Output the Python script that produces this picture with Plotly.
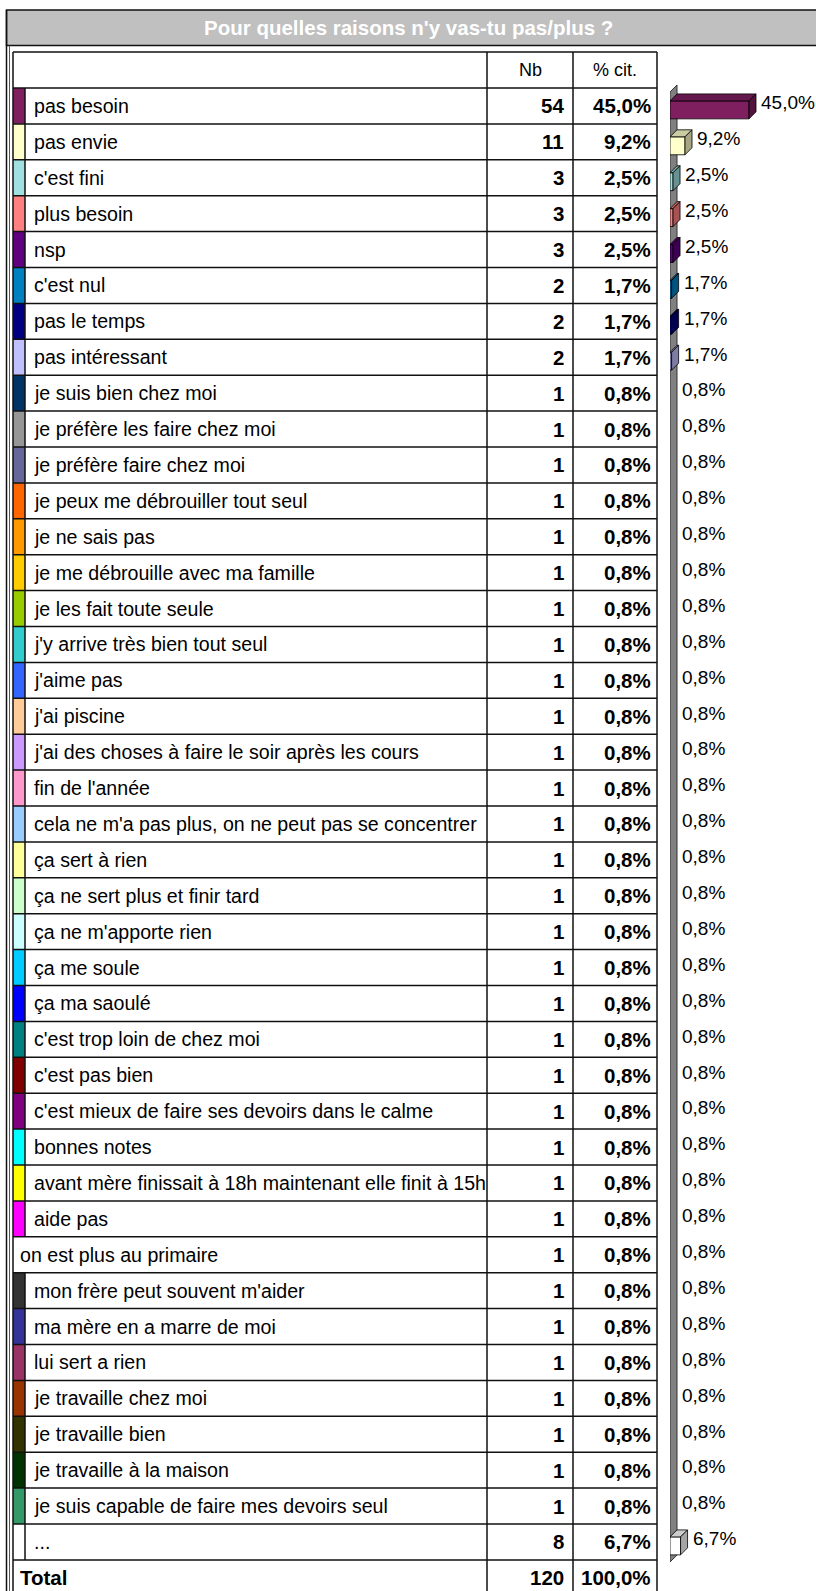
import plotly.graph_objects as go

# ---------------- data ----------------
title_text = "Pour quelles raisons n'y vas-tu pas/plus ?"
header_nb = "Nb"
header_pct = "% cit."

labels = [
    "pas besoin", "pas envie", "c'est fini", "plus besoin", "nsp", "c'est nul",
    "pas le temps", "pas intéressant", "je suis bien chez moi",
    "je préfère les faire chez moi", "je préfère faire chez moi",
    "je peux me débrouiller tout seul", "je ne sais pas",
    "je me débrouille avec ma famille", "je les fait toute seule",
    "j'y arrive très bien tout seul", "j'aime pas", "j'ai piscine",
    "j'ai des choses à faire le soir après les cours", "fin de l'année",
    "cela ne m'a pas plus, on ne peut pas se concentrer", "ça sert à rien",
    "ça ne sert plus et finir tard", "ça ne m'apporte rien", "ça me soule",
    "ça ma saoulé", "c'est trop loin de chez moi", "c'est pas bien",
    "c'est mieux de faire ses devoirs dans le calme", "bonnes notes",
    "avant mère finissait à 18h maintenant elle finit à 15h", "aide pas",
    "on est plus au primaire", "mon frère peut souvent m'aider",
    "ma mère en a marre de moi", "lui sert a rien", "je travaille chez moi",
    "je travaille bien", "je travaille à la maison",
    "je suis capable de faire mes devoirs seul", "...",
]
counts = [54, 11, 3, 3, 3, 2, 2, 2] + [1] * 32 + [8]
pcts = [45.0, 9.2, 2.5, 2.5, 2.5, 1.7, 1.7, 1.7] + [0.8] * 32 + [6.7]
colors = [
    "#7F1F5F", "#FFFFCC", "#A0E0E0", "#FF8080", "#600080", "#0080C0",
    "#000080", "#C0C0FF", "#003366", "#969696", "#666699", "#FF6600",
    "#FF9900", "#FFCC00", "#99CC00", "#33CCCC", "#3366FF", "#FFCC99",
    "#CC99FF", "#FF99CC", "#99CCFF", "#FFFF99", "#CCFFCC", "#CCFFFF",
    "#00CCFF", "#0000FF", "#008080", "#800000", "#800080", "#00FFFF",
    "#FFFF00", "#FF00FF", None, "#333333", "#333399", "#993366",
    "#993300", "#333300", "#003300", "#339966", "#FFFFFF",
]
total_label = "Total"
total_count = 120
total_pct = 100.0

# ---------------- layout constants ----------------
W, H = 816, 1591
FONT = "Liberation Sans, Arial, sans-serif"
ROW_H = 35.9
TOP = 88.0                      # pixel top of first data row
X0 = 0.8                        # value axis minimum (bars start here)
PX_PER_PCT = 79.0 / (45.0 - X0)
DX = 7.0 / PX_PER_PCT           # 3D depth in % units
DY = 7.0 / ROW_H                # 3D depth in row units
LINE = "#111111"
LBL_SIZE = 19.6
NUM_SIZE = 20.5
BAR_LBL_SIZE = 19

n = len(labels)
rows = list(range(n))
total_row = n


def py(px):
    return 1 - px / H


def fmt_pct(v):
    return f"{v:.1f}".replace(".", ",") + "%"


def shade(hexc, f):
    h = hexc.lstrip("#")
    r, g, b = (int(h[i:i + 2], 16) for i in (0, 2, 4))
    return "rgb(%d,%d,%d)" % (r * f, g * f, b * f)


fig = go.Figure()

# swatches (table axis x = pixels)
sw_rows = [r for r in rows if colors[r] is not None]
fig.add_trace(go.Bar(
    orientation="h", y=sw_rows, x=[12] * len(sw_rows), base=13, width=1,
    marker=dict(color=[colors[r] for r in sw_rows], line=dict(width=0)),
    xaxis="x", yaxis="y", hoverinfo="skip", showlegend=False,
))

# 3D bars: front faces (from the axis minimum)
fig.add_trace(go.Bar(
    orientation="h", y=[r + 0.11 for r in rows], x=[v - X0 for v in pcts], base=X0,
    width=0.5,
    marker=dict(color=[c or "#FFFFFF" for c in colors],
                line=dict(color="#000000", width=[0.8 if v > X0 else 0 for v in pcts])),
    xaxis="x2", yaxis="y", hoverinfo="skip", showlegend=False,
))

# 3D bars: top and side faces (only bars longer than the axis minimum are visible)
for r, v, c in zip(rows, pcts, colors):
    if v <= X0:
        continue
    c = c or "#FFFFFF"
    yc = r + 0.11
    yt, yb = yc - 0.25, yc + 0.25
    fig.add_trace(go.Scatter(
        x=[X0, v, v + DX, X0 + DX, X0], y=[yt, yt, yt - DY, yt - DY, yt],
        fill="toself", fillcolor=shade(c, 0.8), mode="lines",
        line=dict(color="#000000", width=0.8),
        xaxis="x2", yaxis="y", hoverinfo="skip", showlegend=False,
    ))
    fig.add_trace(go.Scatter(
        x=[v, v + DX, v + DX, v, v], y=[yt, yt - DY, yb - DY, yb, yt],
        fill="toself", fillcolor=shade(c, 0.65), mode="lines",
        line=dict(color="#000000", width=0.8),
        xaxis="x2", yaxis="y", hoverinfo="skip", showlegend=False,
    ))

shapes = []
annotations = []

# outer frame and title bar
shapes.append(dict(type="rect", xref="paper", yref="paper",
                   x0=6.5 / W, x1=1.01, y0=py(45.5), y1=py(10),
                   fillcolor="#C0C0C0", line=dict(color=LINE, width=1.5), layer="below"))
shapes.append(dict(type="line", xref="paper", yref="paper",
                   x0=6.5 / W, x1=6.5 / W, y0=py(10), y1=0,
                   line=dict(color=LINE, width=1.5)))
shapes.append(dict(type="line", xref="paper", yref="paper",
                   x0=9.5 / W, x1=9.5 / W, y0=py(45.5), y1=0,
                   line=dict(color="#555555", width=1)))
annotations.append(dict(xref="paper", yref="paper", x=408 / W, y=py(28),
                        text="<b>" + title_text + "</b>", showarrow=False,
                        font=dict(family=FONT, size=20.5, color="#FFFFFF"),
                        xanchor="center", yanchor="middle"))

# wall of the 3D chart
wt, wb = -0.39, n - 0.44
shapes.append(dict(type="path", xref="x2", yref="y",
                   path=f"M {X0} {wt} L {X0 + DX} {wt - DY} L {X0 + DX} {wb - DY} L {X0} {wb} Z",
                   fillcolor="#808080", line=dict(color="#333333", width=1), layer="below"))

# table grid
X_L, X_SW, X_NB, X_PC, X_R = 13, 25, 487, 573, 657
for r in range(-1, total_row + 1):
    shapes.append(dict(type="line", xref="x", yref="y", x0=X_L, x1=X_R,
                       y0=r - 0.5, y1=r - 0.5, line=dict(color=LINE, width=1.5)))
for xv in (X_L, X_NB, X_PC, X_R):
    shapes.append(dict(type="line", xref="x", yref="y", x0=xv, x1=xv,
                       y0=-1.5, y1=total_row + 0.6, line=dict(color=LINE, width=1.5)))
for r in sw_rows:
    shapes.append(dict(type="line", xref="x", yref="y", x0=X_SW, x1=X_SW,
                       y0=r - 0.5, y1=r + 0.5, line=dict(color=LINE, width=1.5)))

# header
annotations.append(dict(xref="x", yref="y", x=(X_NB + X_PC) / 2, y=-1, text=header_nb,
                        showarrow=False, font=dict(family=FONT, size=18, color="#000"),
                        xanchor="center", yanchor="middle"))
annotations.append(dict(xref="x", yref="y", x=(X_PC + X_R) / 2, y=-1, text=header_pct,
                        showarrow=False, font=dict(family=FONT, size=18, color="#000"),
                        xanchor="center", yanchor="middle"))

# rows
for r, lab, cnt, v, c in zip(rows, labels, counts, pcts, colors):
    annotations.append(dict(xref="x", yref="y", x=32 if c is not None else 18, y=r,
                            text=lab, showarrow=False,
                            font=dict(family=FONT, size=LBL_SIZE, color="#000"),
                            xanchor="left", yanchor="middle"))
    annotations.append(dict(xref="x", yref="y", x=X_PC - 7, y=r, text=f"<b>{cnt}</b>",
                            showarrow=False, font=dict(family=FONT, size=NUM_SIZE, color="#000"),
                            xanchor="right", yanchor="middle"))
    annotations.append(dict(xref="x", yref="y", x=X_R - 4, y=r, text=f"<b>{fmt_pct(v)}</b>",
                            showarrow=False, font=dict(family=FONT, size=NUM_SIZE, color="#000"),
                            xanchor="right", yanchor="middle"))
    annotations.append(dict(xref="x2", yref="y", x=v + DX, xshift=3, y=r - 0.09,
                            text=fmt_pct(v), showarrow=False,
                            font=dict(family=FONT, size=BAR_LBL_SIZE, color="#000"),
                            xanchor="left", yanchor="middle"))

# total row
annotations.append(dict(xref="x", yref="y", x=18, y=total_row, text=f"<b>{total_label}</b>",
                        showarrow=False, font=dict(family=FONT, size=NUM_SIZE, color="#000"),
                        xanchor="left", yanchor="middle"))
annotations.append(dict(xref="x", yref="y", x=X_PC - 7, y=total_row, text=f"<b>{total_count}</b>",
                        showarrow=False, font=dict(family=FONT, size=NUM_SIZE, color="#000"),
                        xanchor="right", yanchor="middle"))
annotations.append(dict(xref="x", yref="y", x=X_R - 4, y=total_row, text=f"<b>{fmt_pct(total_pct)}</b>",
                        showarrow=False, font=dict(family=FONT, size=NUM_SIZE, color="#000"),
                        xanchor="right", yanchor="middle"))

y_top = -TOP / ROW_H - 0.5
y_bot = (H - TOP) / ROW_H - 0.5

fig.update_layout(
    width=W, height=H, margin=dict(l=0, r=0, t=0, b=0, pad=0),
    paper_bgcolor="#FFFFFF", plot_bgcolor="rgba(0,0,0,0)",
    showlegend=False, barmode="overlay",
    xaxis=dict(domain=[0, 1], range=[0, W], visible=False, fixedrange=True),
    xaxis2=dict(domain=[670 / W, 1], range=[X0, X0 + (W - 670) / PX_PER_PCT], anchor="y",
                visible=False, fixedrange=True),
    yaxis=dict(domain=[0, 1], range=[y_bot, y_top], visible=False, fixedrange=True),
    shapes=shapes, annotations=annotations,
)

fig.write_html("out.html", config={"displayModeBar": False, "staticPlot": True},
               post_script="document.body.style.margin='0';document.body.style.overflow='hidden';")
